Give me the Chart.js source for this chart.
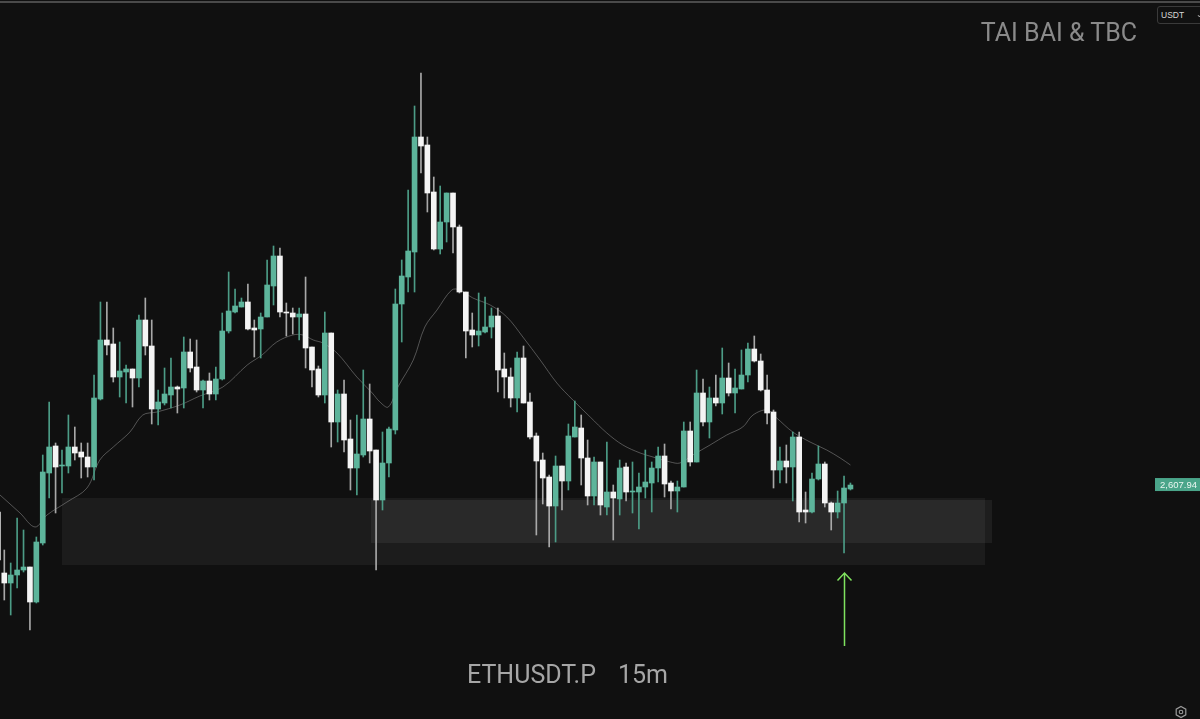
<!DOCTYPE html>
<html>
<head>
<meta charset="utf-8">
<script src="https://cdn.jsdelivr.net/npm/chart.js@4.4.1/dist/chart.umd.min.js"></script>
<style>
  html, body { margin: 0; padding: 0; background: #101010; }
  #wrap { position: relative; width: 1200px; height: 719px; overflow: hidden; background: #101010; }
  #topline { position: absolute; left: 0; top: 1px; width: 1200px; height: 2px; background: #4a4a4a; }
  .txt { position: absolute; font-family: Roboto, "Liberation Sans", Arial, sans-serif; font-size: 25px; line-height: 25px; white-space: pre; }
  #brand { right: 63px; top: 20px; color: #8a8a8a; }
  #symbol { left: 467px; top: 662px; color: #a6a6a6; }
  #symbol span { margin-left: 22px; }
  #usdt { position: absolute; left: 1157px; top: 6px; width: 60px; height: 18px; border: 1px solid #3a3a3a; border-radius: 3px; background: #111;
          font-family: "Liberation Sans", Arial, sans-serif; font-size: 8.5px; line-height: 17px; color: #d8d8d8; box-sizing: border-box; padding-left: 3px; }
  #usdt span { position: absolute; left: 38px; top: -1px; font-size: 8px; color: #bbb; }
  #gear { position: absolute; left: 1174px; top: 705px; }
</style>
</head>
<body>
<div id="wrap">
  <canvas id="chart" width="1200" height="719"></canvas>
  <div id="topline"></div>
  <div class="txt" id="brand">TAI BAI &amp; TBC</div>
  <div class="txt" id="symbol">ETHUSDT.P<span>15m</span></div>
  <div id="usdt">USDT<span>⌄</span></div>
  <svg id="gear" width="14" height="14" viewBox="0 0 14 14">
    <polygon points="7,1.5 11.8,4.2 11.8,9.8 7,12.5 2.2,9.8 2.2,4.2" fill="none" stroke="#9a9a9a" stroke-width="1.2"/>
    <circle cx="7" cy="7" r="1.8" fill="none" stroke="#9a9a9a" stroke-width="1.1"/>
  </svg>
</div>
<script>
// ETHUSDT.P 15m candles (first one is cut by the left edge)
const opens = [
  2601.2, 2585.95, 2583.45, 2585.45, 2586.7, 2587.45, 2578.7, 2593.45, 2610.95, 2617.7,
  2612.7, 2612.7, 2617.45, 2616.2, 2614.95, 2612.45, 2629.45, 2644.2, 2643.2, 2634.95,
  2636.2, 2636.95, 2634.7, 2649.2, 2642.7, 2626.95, 2628.45, 2630.45, 2632.45, 2632.2,
  2641.2, 2637.45, 2631.7, 2633.95, 2630.7, 2634.45, 2646.45, 2651.2, 2652.45, 2653.7,
  2647.2, 2646.95, 2649.95, 2657.7, 2665.2, 2651.2, 2650.95, 2649.95, 2650.7, 2642.45,
  2636.95, 2630.45, 2645.95, 2623.7, 2630.7, 2619.45, 2612.2, 2615.45, 2624.45, 2616.7,
  2604.2, 2613.45, 2621.7, 2653.2, 2659.95, 2666.2, 2694.95, 2692.95, 2681.2, 2666.95,
  2673.7, 2680.95, 2672.45, 2656.2, 2646.7, 2645.45, 2646.2, 2647.45, 2650.2, 2636.95,
  2634.95, 2629.7, 2639.7, 2628.7, 2620.2, 2614.2, 2609.95, 2602.7, 2612.7, 2608.95,
  2619.95, 2622.2, 2614.7, 2605.2, 2613.7, 2602.45, 2606.2, 2604.45, 2612.45, 2606.2,
  2606.2, 2607.45, 2608.45, 2612.2, 2615.2, 2608.45, 2606.45, 2607.45, 2621.45, 2613.7,
  2630.95, 2623.7, 2629.7, 2628.45, 2634.7, 2630.95, 2631.95, 2635.45, 2641.95, 2638.95,
  2631.7, 2626.2, 2611.7, 2613.95, 2612.45, 2619.95, 2601.7, 2601.2, 2609.45, 2613.2,
  2603.45, 2601.2, 2603.45, 2606.95
];
const highs = [
  2602.95, 2591.7, 2588.45, 2599.7, 2596.7, 2587.45, 2594.95, 2615.45, 2628.7, 2618.45,
  2616.7, 2625.45, 2622.45, 2618.45, 2618.45, 2635.45, 2653.7, 2653.7, 2647.2, 2643.7,
  2637.95, 2636.95, 2650.45, 2654.7, 2649.2, 2631.7, 2637.2, 2639.7, 2632.7, 2644.95,
  2644.45, 2644.2, 2634.2, 2635.95, 2637.45, 2650.95, 2661.2, 2656.95, 2654.7, 2658.2,
  2649.2, 2650.95, 2664.2, 2667.7, 2667.2, 2653.45, 2652.2, 2652.2, 2659.95, 2642.45,
  2637.7, 2651.2, 2645.95, 2631.7, 2634.2, 2624.2, 2625.45, 2636.7, 2633.2, 2616.7,
  2621.2, 2622.45, 2656.95, 2664.2, 2681.7, 2702.7, 2710.95, 2694.95, 2684.95, 2682.7,
  2680.95, 2680.95, 2672.95, 2656.2, 2650.95, 2655.95, 2654.95, 2652.2, 2652.2, 2640.95,
  2637.2, 2641.2, 2642.7, 2630.95, 2620.95, 2615.95, 2610.45, 2615.2, 2612.7, 2623.2,
  2628.95, 2625.45, 2619.2, 2614.95, 2613.7, 2618.7, 2607.95, 2614.2, 2613.45, 2613.7,
  2610.95, 2616.7, 2613.7, 2617.45, 2618.2, 2608.95, 2608.95, 2623.7, 2623.7, 2636.7,
  2634.45, 2632.45, 2635.45, 2642.2, 2638.45, 2636.95, 2641.7, 2643.45, 2645.2, 2640.7,
  2635.45, 2626.7, 2617.45, 2617.95, 2621.2, 2621.2, 2606.2, 2610.95, 2617.7, 2613.7,
  2603.7, 2606.45, 2610.2, 2608.45
];
const lows = [
  2587.95, 2579.2, 2575.45, 2582.2, 2586.2, 2571.7, 2578.45, 2592.95, 2604.7, 2600.95,
  2605.95, 2610.95, 2614.2, 2609.7, 2609.95, 2609.2, 2629.2, 2640.45, 2633.7, 2629.95,
  2628.45, 2627.45, 2632.45, 2640.45, 2623.2, 2622.95, 2627.95, 2627.2, 2625.95, 2627.2,
  2636.2, 2631.2, 2627.2, 2629.2, 2629.2, 2634.2, 2645.95, 2650.95, 2652.45, 2646.7,
  2639.95, 2639.7, 2649.95, 2652.95, 2649.95, 2645.2, 2645.7, 2644.2, 2637.2, 2632.45,
  2629.95, 2628.45, 2617.45, 2618.7, 2616.2, 2606.7, 2605.45, 2614.95, 2613.45, 2586.7,
  2601.7, 2609.95, 2620.7, 2643.7, 2656.2, 2656.2, 2685.95, 2676.2, 2666.7, 2665.7,
  2668.7, 2665.95, 2655.95, 2639.7, 2642.45, 2642.7, 2645.95, 2644.7, 2631.2, 2629.7,
  2627.45, 2626.2, 2628.45, 2619.45, 2595.45, 2603.2, 2592.45, 2593.7, 2601.7, 2606.7,
  2619.95, 2607.95, 2602.95, 2602.95, 2600.45, 2600.45, 2594.2, 2600.45, 2603.95, 2600.95,
  2596.95, 2604.7, 2601.2, 2608.7, 2604.95, 2601.95, 2601.2, 2607.45, 2612.7, 2613.7,
  2622.7, 2619.7, 2627.7, 2625.7, 2630.2, 2625.95, 2631.95, 2633.7, 2638.7, 2631.45,
  2623.2, 2607.2, 2608.45, 2608.45, 2603.95, 2598.7, 2598.45, 2600.95, 2609.2, 2602.45,
  2596.7, 2599.7, 2590.95, 2606.7
];
const closes = [
  2589.2, 2583.45, 2585.45, 2586.7, 2587.45, 2578.7, 2593.7, 2611.2, 2617.45, 2612.45,
  2612.95, 2617.45, 2615.95, 2614.95, 2612.45, 2629.7, 2644.2, 2642.95, 2634.95, 2636.45,
  2636.95, 2634.7, 2649.2, 2642.7, 2626.95, 2628.7, 2630.7, 2632.45, 2631.95, 2641.2,
  2637.2, 2631.7, 2633.95, 2630.7, 2634.45, 2646.45, 2651.45, 2652.7, 2653.7, 2646.95,
  2646.7, 2649.95, 2657.95, 2665.2, 2651.2, 2650.95, 2649.95, 2650.7, 2642.2, 2636.7,
  2630.45, 2645.95, 2623.7, 2630.7, 2619.2, 2612.2, 2615.7, 2624.45, 2616.45, 2604.2,
  2613.45, 2621.95, 2653.2, 2660.2, 2666.45, 2694.95, 2692.7, 2680.95, 2666.95, 2673.7,
  2680.95, 2672.45, 2656.2, 2646.45, 2645.45, 2646.45, 2647.45, 2650.2, 2636.7, 2634.95,
  2629.7, 2639.7, 2628.45, 2619.95, 2613.95, 2609.7, 2602.7, 2612.7, 2608.95, 2620.2,
  2622.45, 2614.7, 2605.2, 2613.7, 2602.95, 2606.2, 2604.7, 2612.2, 2606.2, 2606.45,
  2607.45, 2608.7, 2612.2, 2615.2, 2608.2, 2606.45, 2607.45, 2621.45, 2613.7, 2630.95,
  2623.7, 2629.7, 2628.45, 2634.7, 2630.95, 2632.2, 2635.45, 2641.95, 2638.95, 2631.7,
  2625.95, 2611.7, 2613.95, 2612.45, 2619.95, 2601.2, 2601.2, 2609.45, 2613.2, 2603.45,
  2601.2, 2603.45, 2607.2, 2607.94
];

// moving average line, sampled along the curve (x = candle index)
const maIndex = [
  0.33, 3.45, 5.8, 7.66, 10.78, 13.9, 15.9, 18.0, 20.6, 22.6,
  24.8, 28.4, 31.5, 35.1, 38.9, 41.2, 43.5, 46.0, 47.6, 49.2,
  50.7, 52.9, 56.0, 58.4, 59.6, 60.9, 62.4, 64.8, 66.6, 68.5,
  70.8, 72.1, 74.1, 76.8, 79.4, 81.9, 84.6, 87.2, 89.7, 92.4,
  95.0, 97.5, 100.2, 102.2, 104.9, 106.4, 108.4, 111.1, 113.7, 116.2,
  117.8, 120.0, 121.5, 124.0, 126.7, 129.3, 131.4, 133.0
];
const maValue = [
  2605.45, 2600.95, 2597.45, 2600.45, 2603.7, 2607.2, 2614.2, 2617.45, 2621.2, 2625.45,
  2626.2, 2627.95, 2630.2, 2632.45, 2637.95, 2640.45, 2643.7, 2645.45, 2645.45, 2644.2,
  2643.45, 2640.95, 2634.95, 2630.95, 2628.7, 2627.45, 2632.45, 2639.2, 2647.45, 2651.7,
  2656.7, 2656.7, 2654.7, 2652.95, 2649.95, 2644.95, 2639.2, 2633.45, 2629.2, 2624.95,
  2620.95, 2617.95, 2615.95, 2614.95, 2613.7, 2613.45, 2615.45, 2617.95, 2620.45, 2622.45,
  2625.45, 2626.7, 2624.7, 2621.2, 2618.7, 2616.7, 2614.7, 2612.95
];

// support zones (candle index range, price range)
const zones = [
  { from: 10.0, to: 154.0, low: 2587.95, high: 2604.7, color: 'rgba(255,255,255,0.05)' },
  { from: 58.2, to: 155.1, low: 2593.45, high: 2604.2, color: 'rgba(255,255,255,0.06)' }
];
const arrow = { index: 132, top: 2585.95, bottom: 2567.7 };
const lastPrice = 2607.94;
const lastPriceLabel = '2,607.94';

const UP = '#5db49b', UP_WICK = '#4c9c86', DOWN = '#f4f4f4', DOWN_WICK = '#a8a8a8';

const bodies = [], wicks = [], bodyColors = [], wickColors = [];
for (let k = 0; k < opens.length; k++) {
  const up = closes[k] >= opens[k];
  bodies.push({ x: k, y: [opens[k], closes[k]] });
  wicks.push({ x: k, y: [lows[k], highs[k]] });
  bodyColors.push(up ? UP : DOWN);
  wickColors.push(up ? UP_WICK : DOWN_WICK);
}
const maData = maIndex.map((v, i) => ({ x: v, y: maValue[i] }));

const overlay = {
  id: 'overlay',
  beforeDatasetsDraw(chart) {
    const { ctx, scales: { x, y } } = chart;
    ctx.save();
    zones.forEach(z => {
      const x1 = x.getPixelForValue(z.from), x2 = x.getPixelForValue(z.to);
      const y1 = y.getPixelForValue(z.high), y2 = y.getPixelForValue(z.low);
      ctx.fillStyle = z.color;
      ctx.fillRect(x1, y1, x2 - x1, y2 - y1);
    });
    ctx.restore();
  },
  afterDatasetsDraw(chart) {
    const { ctx, scales: { x, y } } = chart;
    ctx.save();
    // green arrow under the last low
    const ax = Math.round(x.getPixelForValue(arrow.index)) + 0.5;
    const at = y.getPixelForValue(arrow.top), ab = y.getPixelForValue(arrow.bottom);
    ctx.strokeStyle = '#7fe35f';
    ctx.lineWidth = 1.5;
    ctx.beginPath();
    ctx.moveTo(ax, ab); ctx.lineTo(ax, at);
    ctx.moveTo(ax - 7, at + 7.5); ctx.lineTo(ax, at); ctx.lineTo(ax + 7, at + 7.5);
    ctx.stroke();
    // last price tag
    const py = y.getPixelForValue(lastPrice);
    ctx.fillStyle = '#4aa58a';
    ctx.fillRect(1155, py - 7, 45, 13);
    ctx.fillStyle = '#eaf6f1';
    ctx.font = '9.5px "Liberation Sans", Arial, sans-serif';
    ctx.textBaseline = 'middle';
    ctx.fillText(lastPriceLabel, 1160, py);
    ctx.restore();
  }
};

new Chart(document.getElementById('chart'), {
  type: 'bar',
  data: {
    datasets: [
      {
        type: 'line', data: maData, borderColor: 'rgba(140,140,140,0.55)', borderWidth: 1,
        pointRadius: 0, tension: 0.35, order: 3
      },
      {
        data: wicks, backgroundColor: wickColors, barThickness: 1, grouped: false, order: 2
      },
      {
        data: bodies, backgroundColor: bodyColors, barThickness: 5, grouped: false, order: 1
      }
    ]
  },
  options: {
    responsive: false,
    animation: false,
    layout: { padding: 0 },
    plugins: { legend: { display: false }, tooltip: { enabled: false } },
    scales: {
      x: { type: 'linear', display: false, offset: false, min: 0.33, max: 187.53 },
      y: { display: false, min: 2549.45, max: 2729.2 }
    }
  },
  plugins: [overlay]
});
</script>
</body>
</html>
